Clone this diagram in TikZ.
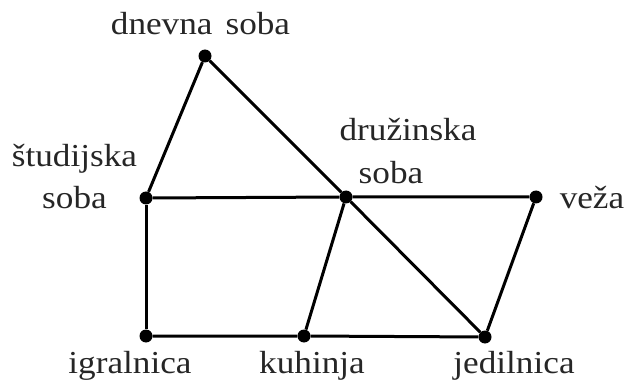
\documentclass[tikz,border=0pt]{standalone}
\usepackage{fontspec}
\setmainfont{Liberation Serif}[FakeStretch=1.1]
\begin{document}
\begin{tikzpicture}[x=1pt,y=-1pt,
  vtx/.style={circle,fill=black,inner sep=0pt,minimum size=13pt},
  lbl/.style={anchor=base,inner sep=0pt,font=\fontsize{32}{36}\selectfont,text=black!85},
  edge/.style={line width=3pt}]
\useasboundingbox (0,0) rectangle (627,385);
\node[vtx] (dn) at (205,56) {};
\node[vtx] (st) at (146,198) {};
\node[vtx] (dr) at (346,197) {};
\node[vtx] (ve) at (536,197) {};
\node[vtx] (ig) at (146,336) {};
\node[vtx] (ku) at (304,336) {};
\node[vtx] (je) at (485,337) {};
\draw[edge] (dn) -- (st);
\draw[edge] (dn) -- (dr);
\draw[edge] (dr) -- (je);
\draw[edge] (st) -- (dr) -- (ve);
\draw[edge] (st) -- (ig);
\draw[edge] (ig) -- (ku) -- (je);
\draw[edge] (dr) -- (ku);
\draw[edge] (ve) -- (je);
\node[lbl] (tdn) at (200.5,35) {dnevna\hspace{13pt}soba};
\node[lbl] (tst1) at (74.5,167) {študijska};
\node[lbl] (tst2) at (74.5,208) {soba};
\node[lbl] (tdr1) at (408,141) {družinska};
\node[lbl] (tdr2) at (391,184) {soba};
\node[lbl] (tve) at (592,208) {veža};
\node[lbl] (tig) at (130,373) {igralnica};
\node[lbl] (tku) at (312,373) {kuhinja};
\node[lbl] (tje) at (514,373) {jedilnica};
\end{tikzpicture}
\end{document}
